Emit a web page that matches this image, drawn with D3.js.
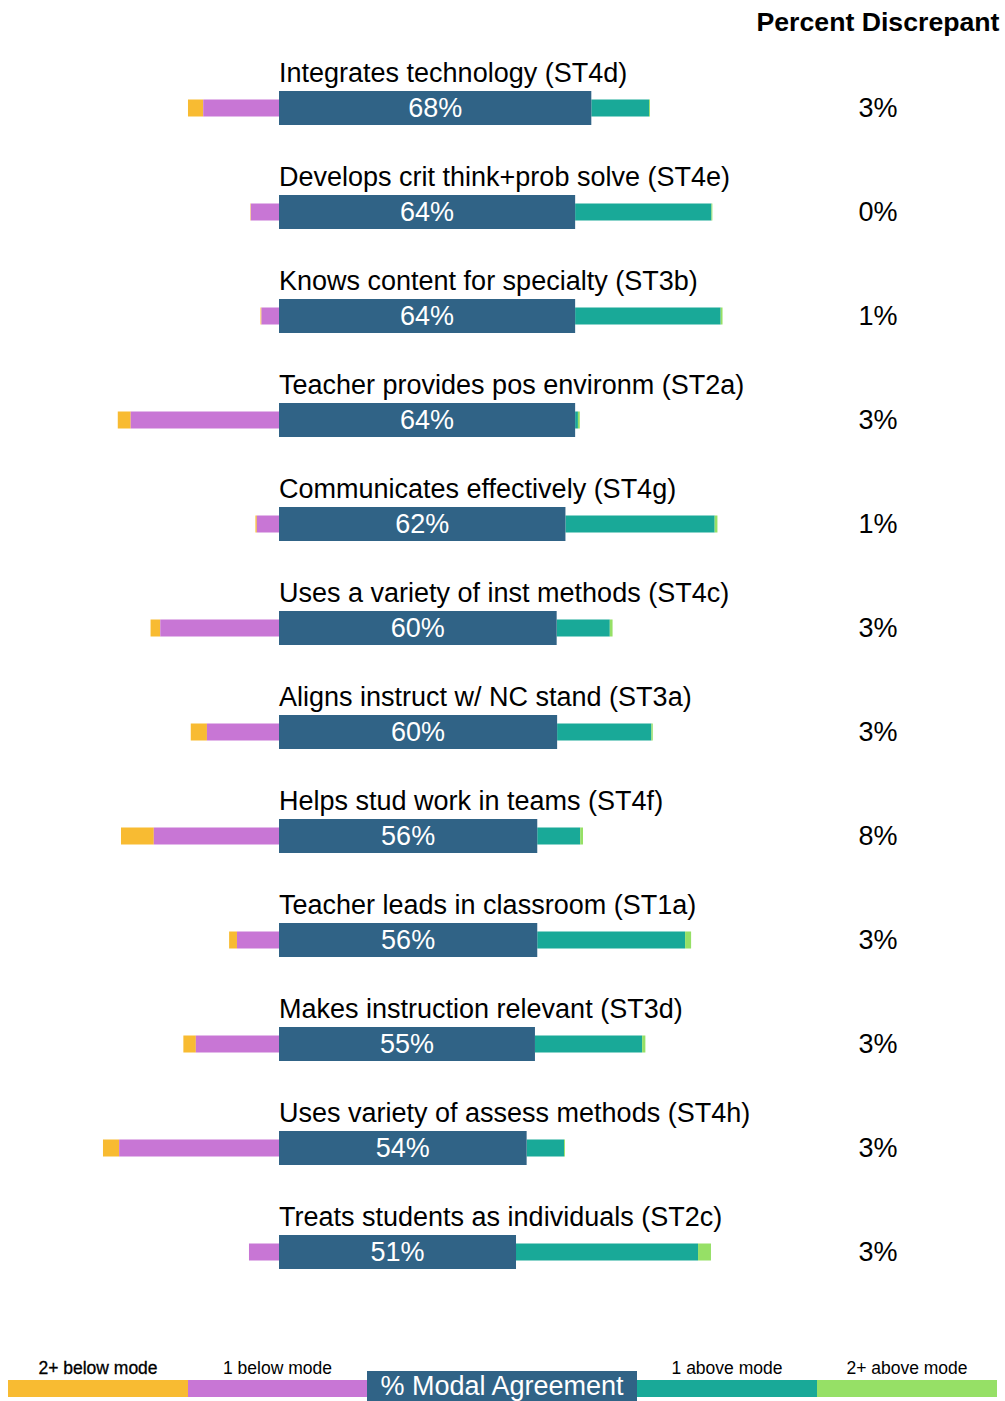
<!DOCTYPE html>
<html>
<head>
<meta charset="utf-8">
<script src="https://cdn.jsdelivr.net/npm/d3@7/dist/d3.min.js"></script>
<style>
  html, body { margin: 0; padding: 0; background: #fff; }
  svg { display: block; font-family: "Liberation Sans", Arial, sans-serif; }
</style>
</head>
<body>
<svg id="chart" width="1005" height="1401"></svg>
<script>
// ---- data ----
const categories = [
  "Integrates technology (ST4d)",
  "Develops crit think+prob solve (ST4e)",
  "Knows content for specialty (ST3b)",
  "Teacher provides pos environm (ST2a)",
  "Communicates effectively (ST4g)",
  "Uses a variety of inst methods (ST4c)",
  "Aligns instruct w/ NC stand (ST3a)",
  "Helps stud work in teams (ST4f)",
  "Teacher leads in classroom (ST1a)",
  "Makes instruction relevant (ST3d)",
  "Uses variety of assess methods (ST4h)",
  "Treats students as individuals (ST2c)"
];
const modalAgreement = [67.6, 64.1, 64.1, 64.1, 62.0, 60.1, 60.2, 55.9, 55.9, 55.4, 53.6, 51.3];
const twoPlusBelow   = [3.3, 0.1, 0.2, 2.8, 0.3, 2.1, 3.5, 7.1, 1.7, 2.7, 3.5, 0.0];
const oneBelow       = [16.4, 6.1, 3.8, 32.1, 4.8, 25.7, 15.6, 27.1, 9.1, 18.0, 34.6, 6.5];
const oneAbove       = [12.5, 29.5, 31.5, 0.6, 32.3, 11.5, 20.4, 9.3, 32.0, 23.2, 8.1, 39.4];
const twoPlusAbove   = [0.2, 0.2, 0.4, 0.4, 0.6, 0.6, 0.3, 0.6, 1.3, 0.7, 0.2, 2.8];
const percentDiscrepant = [3, 0, 1, 3, 1, 3, 3, 8, 3, 3, 3, 3];
const legendLabels = ["2+ below mode", "1 below mode", "% Modal Agreement", "1 above mode", "2+ above mode"];
const headerLabel = "Percent Discrepant";

// ---- styles ----
const C = { b2: "#F8BB32", b1: "#C876D5", mode: "#306386", a1: "#19A998", a2: "#96E066" };
const FS = 27;

const svg = d3.select("#chart");

const rows = categories.map((c, i) => ({
  cat: c, m: modalAgreement[i], b2: twoPlusBelow[i], b1: oneBelow[i],
  a1: oneAbove[i], a2: twoPlusAbove[i], disc: percentDiscrepant[i]
}));

// x: percentage -> pixel, zero at the modal bar start
const pxPerPct = 4.62;
const x0 = 279;
const x = d3.scaleLinear().domain([-60, 100]).range([x0 - 60 * pxPerPct, x0 + 100 * pxPerPct]);
const y = d3.scalePoint().domain(categories).range([108, 1252]);

const modeH = 34, sideH = 17;

const g = svg.append("g");
const row = g.selectAll("g.row").data(rows).join("g").attr("class", "row")
  .attr("transform", d => `translate(0,${y(d.cat)})`);

// side segments
function seg(cls, color, x1f, x2f) {
  row.append("rect").attr("class", cls)
    .attr("x", d => Math.min(x(x1f(d)), x(x2f(d))))
    .attr("width", d => Math.abs(x(x2f(d)) - x(x1f(d))))
    .attr("y", -sideH / 2).attr("height", sideH)
    .attr("fill", color);
}
seg("b2", C.b2, d => -(d.b1 + d.b2), d => -d.b1);
seg("b1", C.b1, d => -d.b1, d => 0);
seg("a1", C.a1, d => d.m, d => d.m + d.a1);
seg("a2", C.a2, d => d.m + d.a1, d => d.m + d.a1 + d.a2);

// modal bar
row.append("rect")
  .attr("x", x(0)).attr("width", d => x(d.m) - x(0))
  .attr("y", -modeH / 2).attr("height", modeH)
  .attr("fill", C.mode);

row.append("text")
  .attr("x", d => (x(0) + x(d.m)) / 2).attr("y", 9)
  .attr("text-anchor", "middle").attr("fill", "#fff")
  .attr("font-size", FS)
  .text(d => Math.round(d.m) + "%");

// category label
row.append("text")
  .attr("x", x(0)).attr("y", -26)
  .attr("font-size", FS).attr("fill", "#000")
  .text(d => d.cat);

// percent discrepant
row.append("text")
  .attr("x", 878).attr("y", 9)
  .attr("text-anchor", "middle").attr("font-size", FS).attr("fill", "#000")
  .text(d => d.disc + "%");

svg.append("text")
  .attr("x", 878).attr("y", 31)
  .attr("text-anchor", "middle").attr("font-size", 26.67).attr("font-weight", "bold")
  .attr("fill", "#000")
  .text(headerLabel);

// ---- legend ----
const legendColors = [C.b2, C.b1, C.mode, C.a1, C.a2];
const legendEdges = [8, 188, 367, 637, 817, 997];
const lg = svg.append("g");
legendLabels.forEach((lab, i) => {
  const xa = legendEdges[i], xb = legendEdges[i + 1];
  const cx = (xa + xb) / 2;
  if (i === 2) {
    lg.append("rect").attr("x", xa).attr("y", 1371).attr("width", xb - xa).attr("height", 32)
      .attr("fill", legendColors[i]);
    lg.append("text").attr("x", cx).attr("y", 1395).attr("text-anchor", "middle")
      .attr("font-size", FS).attr("fill", "#fff").text(lab);
  } else {
    lg.append("rect").attr("x", xa).attr("y", 1380).attr("width", xb - xa).attr("height", 17)
      .attr("fill", legendColors[i]);
    lg.append("text").attr("x", cx).attr("y", 1374).attr("text-anchor", "middle")
      .attr("font-size", 17.5).attr("fill", "#000")
      .attr("stroke", i === 0 ? "#000" : "none").attr("stroke-width", i === 0 ? 0.3 : 0)
      .text(lab);
  }
});
</script>
</body>
</html>
